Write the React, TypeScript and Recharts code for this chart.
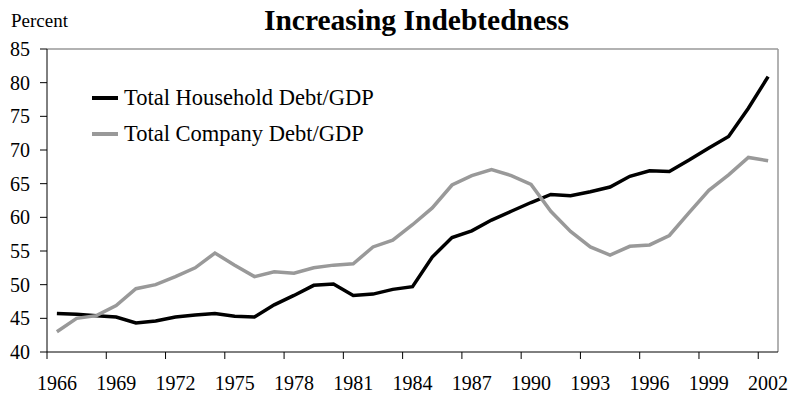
import React from 'react';
import { LineChart, Line, XAxis, YAxis, ReferenceLine, Legend } from 'recharts';

const years = [
  1966, 1967, 1968, 1969, 1970, 1971, 1972, 1973, 1974, 1975, 1976, 1977, 1978,
  1979, 1980, 1981, 1982, 1983, 1984, 1985, 1986, 1987, 1988, 1989, 1990, 1991,
  1992, 1993, 1994, 1995, 1996, 1997, 1998, 1999, 2000, 2001, 2002,
];

const householdDebt = [
  45.7, 45.6, 45.4, 45.2, 44.3, 44.6, 45.2, 45.5, 45.7, 45.3, 45.2, 47.0, 48.4,
  49.9, 50.1, 48.4, 48.6, 49.3, 49.7, 54.1, 57.0, 58.0, 59.6, 60.9, 62.2, 63.4,
  63.2, 63.8, 64.5, 66.1, 66.9, 66.8, 68.5, 70.3, 72.0, 76.2, 80.9,
];

const companyDebt = [
  43.0, 45.0, 45.4, 46.9, 49.4, 50.0, 51.2, 52.5, 54.7, 52.9, 51.2, 51.9, 51.7,
  52.5, 52.9, 53.1, 55.6, 56.6, 58.9, 61.4, 64.8, 66.2, 67.1, 66.2, 64.9, 60.9,
  57.9, 55.6, 54.4, 55.7, 55.9, 57.3, 60.7, 64.0, 66.3, 68.9, 68.4,
];

const yearTicks = [1966, 1969, 1972, 1975, 1978, 1981, 1984, 1987, 1990, 1993, 1996, 1999, 2002];
const percentTicks = [40, 45, 50, 55, 60, 65, 70, 75, 80, 85];
const seriesOrder = ['household', 'company'];

const chartData = years.map((year, i) => ({
  year,
  household: householdDebt[i],
  company: companyDebt[i],
}));

const WIDTH = 799;
const HEIGHT = 394;
const MARGIN = { top: 49, right: 21, bottom: 0, left: 0 };
const Y_AXIS_WIDTH = 47;
const X_AXIS_HEIGHT = 42;
// half a category, used to put the x tick marks between the years
const plotWidth = WIDTH - MARGIN.left - MARGIN.right - Y_AXIS_WIDTH;
const halfStep = plotWidth / years.length / 2;

const FONT = 'Liberation Serif, Times New Roman, serif';
const GRAY = '#999999';

const YearTick = (props: any) => {
  const { x, y, payload } = props;
  return (
    <g>
      <line x1={x - halfStep} x2={x - halfStep} y1={y} y2={y + 7} stroke="#000" strokeWidth={1} />
      <text x={x} y={y + 38} textAnchor="middle" fontSize={20} style={{ fontFamily: FONT }} fill="#000">
        {payload.value}
      </text>
    </g>
  );
};

const LegendContent = (props: any) => {
  const { payload = [] } = props;
  const items = [...payload].sort(
    (a: any, b: any) => seriesOrder.indexOf(a.dataKey) - seriesOrder.indexOf(b.dataKey)
  );
  return (
    <div style={{ fontFamily: FONT }}>
      {items.map((entry: any) => (
        <div key={entry.value} style={{ display: 'flex', alignItems: 'center', height: 36 }}>
          <svg width={26} height={6}>
            <line x1={0} x2={26} y1={3} y2={3} stroke={entry.color} strokeWidth={4} />
          </svg>
          <span style={{ marginLeft: 6, fontSize: 22.5, color: '#000', lineHeight: 1, fontFamily: FONT }}>
            {entry.value}
          </span>
        </div>
      ))}
    </div>
  );
};

export default function App() {
  return (
    <div
      style={{
        position: 'absolute', left: 0, top: 0, width: WIDTH, height: HEIGHT, background: '#fff', fontFamily: FONT,
      }}
    >
      <div
        style={{
          position: 'absolute', left: 11, top: 11, fontFamily: FONT, fontSize: 19, lineHeight: 1, color: '#000',
        }}
      >
        Percent
      </div>
      <div
        style={{
          position: 'absolute', left: 0, width: 833, top: 6, textAlign: 'center', fontFamily: FONT,
          fontSize: 29.5, fontWeight: 'bold', lineHeight: 1, color: '#000',
        }}
      >
        Increasing Indebtedness
      </div>
      <LineChart width={WIDTH} height={HEIGHT} data={chartData} margin={MARGIN} style={{ fontFamily: FONT }}>
        <XAxis
          dataKey="year"
          type="number"
          domain={[1965.5, 2002.5]}
          ticks={yearTicks}
          interval={0}
          height={X_AXIS_HEIGHT}
          tickSize={0}
          tickMargin={0}
          tickLine={false}
          axisLine={{ stroke: '#000', strokeWidth: 1 }}
          tick={<YearTick />}
        />
        <YAxis
          type="number"
          domain={[40, 85]}
          ticks={percentTicks}
          interval={0}
          width={Y_AXIS_WIDTH}
          tickSize={7}
          tickMargin={10}
          axisLine={{ stroke: '#000', strokeWidth: 1 }}
          tickLine={{ stroke: '#000', strokeWidth: 1 }}
          tick={{ fontSize: 20, fill: '#000', style: { fontFamily: FONT } }}
        />
        <ReferenceLine y={85} stroke={GRAY} strokeWidth={1.5} />
        <ReferenceLine x={2002.5} stroke={GRAY} strokeWidth={1.5} />
        <Legend
          layout="horizontal"
          verticalAlign="middle"
          align="center"
          content={<LegendContent />}
          wrapperStyle={{ top: 80, left: 92, width: 'auto' }}
        />
        <Line
          type="linear"
          dataKey="household"
          name="Total Household Debt/GDP"
          stroke="#000"
          strokeWidth={3.5}
          dot={false}
          isAnimationActive={false}
        />
        <Line
          type="linear"
          dataKey="company"
          name="Total Company Debt/GDP"
          stroke={GRAY}
          strokeWidth={3.5}
          dot={false}
          isAnimationActive={false}
        />
      </LineChart>
    </div>
  );
}
